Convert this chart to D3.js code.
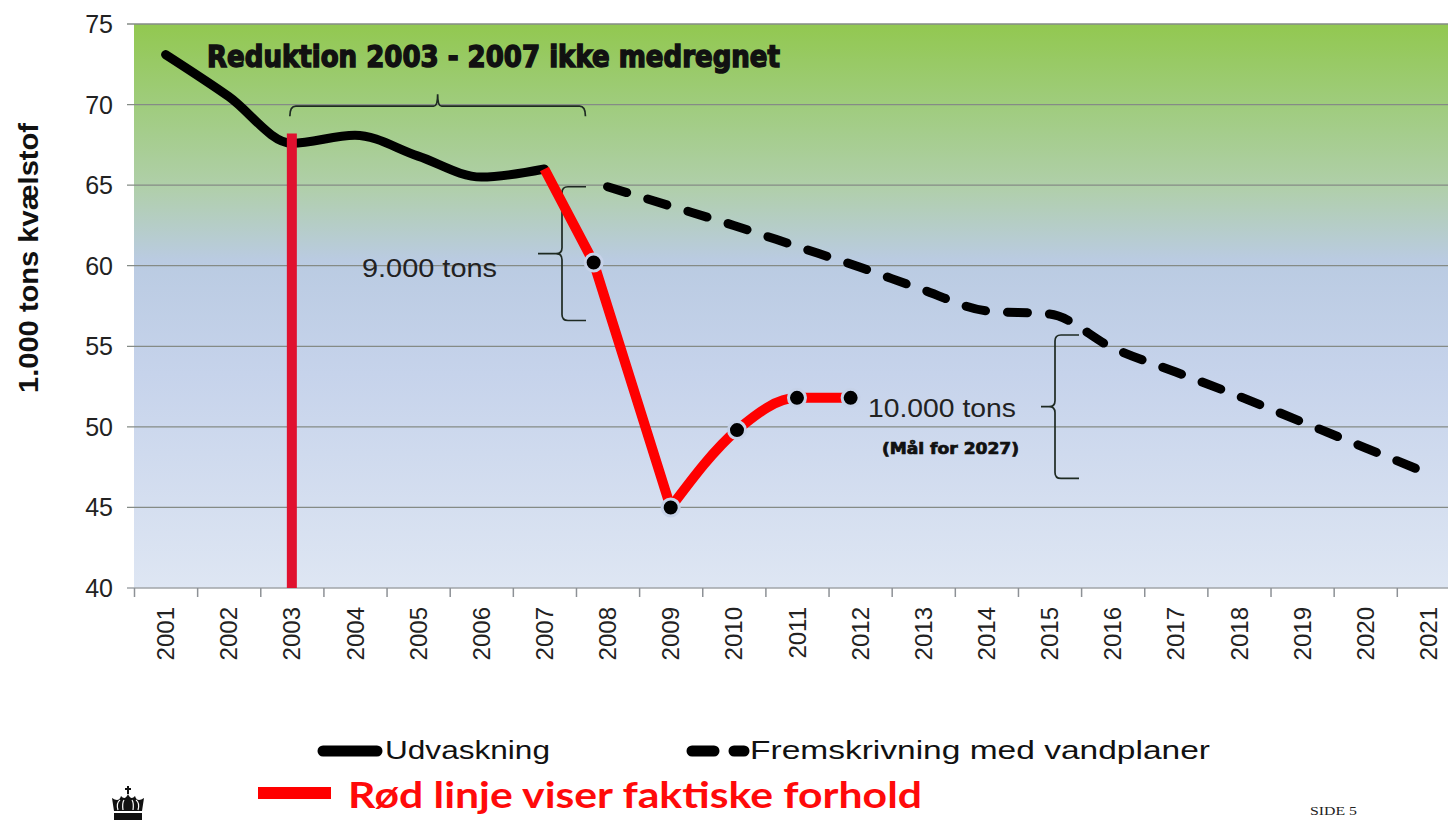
<!DOCTYPE html>
<html>
<head>
<meta charset="utf-8">
<script src="https://cdn.jsdelivr.net/npm/d3@7"></script>
<style>
    body { margin: 0; background: #fff; }
    svg { display: block; }
    .tick-label { font-family: "Liberation Sans", Arial, sans-serif; fill: #222; }
    .note { font-family: "Liberation Sans", Arial, sans-serif; fill: #222; }
    .stamp { font-family: "DejaVu Sans Condensed", "DejaVu Sans", sans-serif; font-weight: bold; fill: #111; stroke: #111; }
</style>
</head>
<body>
<svg id="chart" width="1448" height="820"></svg>
<script>
// category labels on the x axis
var yearLabels = ['2001', '2002', '2003', '2004', '2005', '2006', '2007', '2008', '2009', '2010', '2011',
    '2012', '2013', '2014', '2015', '2016', '2017', '2018', '2019', '2020', '2021'];
var yTicks = [40, 45, 50, 55, 60, 65, 70, 75];

// Udvaskning (measured leaching)
var udvYears = [2001, 2002, 2003, 2004, 2005, 2006, 2007];
var udvValues = [73.1, 70.5, 67.6, 68.1, 66.8, 65.5, 66.0];

// Fremskrivning med vandplaner (projection)
var projYears = [2008, 2009, 2010, 2011, 2012, 2013, 2014, 2015, 2016, 2017, 2018, 2019, 2020, 2021];
var projValues = [64.9, 63.7, 62.5, 61.2, 59.9, 58.5, 57.2, 57.0, 54.9, 53.4, 51.9, 50.3, 48.7, 47.1];

// red line: actual conditions
var actualYears = [2007, 2007.78, 2009, 2010.05, 2011, 2011.85];
var actualValues = [66.0, 60.2, 45.0, 49.8, 51.8, 51.8];

// red marker at 2003
var markYear = 2003;
var markTop = 68.2;

(function (d3) {
    'use strict';

    var svg = d3.select('#chart'),
        left = 134, top = 24, bottom = 588,
        band = 63.14,
        right = left + band * yearLabels.length;

    var x = d3.scaleLinear().domain([2000.5, 2000.5 + yearLabels.length]).range([left, right]),
        y = d3.scaleLinear().domain([40, 75]).range([bottom, top]);

    // background gradient
    var grad = svg.append('defs').append('linearGradient')
        .attr('id', 'bg').attr('x1', 0).attr('y1', 0).attr('x2', 0).attr('y2', 1);
    [[0, '#92c850'], [0.14, '#9fcc7c'], [0.29, '#b0cfaa'], [0.42, '#bacbe2'],
        [0.62, '#c6d3eb'], [1, '#dee6f3']].forEach(function (s) {
        grad.append('stop').attr('offset', s[0]).attr('stop-color', s[1]);
    });

    svg.append('rect')
        .attr('x', left).attr('y', top)
        .attr('width', right - left).attr('height', bottom - top)
        .attr('fill', 'url(#bg)');

    // grid lines + y labels
    svg.append('g').selectAll('line')
        .data(yTicks)
        .enter().append('line')
        .attr('x1', left - 7).attr('x2', 1448)
        .attr('y1', function (d) { return y(d); })
        .attr('y2', function (d) { return y(d); })
        .attr('stroke', function (d) { return d === 40 ? '#a0a4a8' : '#858b86'; })
        .attr('stroke-width', 1.3);

    svg.append('g').selectAll('text')
        .data(yTicks)
        .enter().append('text')
        .attr('class', 'tick-label')
        .attr('x', 113)
        .attr('y', function (d) { return y(d); })
        .attr('dy', '0.36em')
        .attr('text-anchor', 'end')
        .style('font-size', '25px')
        .text(function (d) { return d; });

    // x axis ticks and labels
    var xAxis = d3.axisBottom(x)
        .tickValues(d3.range(yearLabels.length + 1).map(function (i) { return 2000.5 + i; }))
        .tickSize(9)
        .tickFormat('');
    var gx = svg.append('g')
        .attr('transform', 'translate(0,' + bottom + ')')
        .call(xAxis);
    gx.select('.domain').remove();
    gx.selectAll('line').attr('stroke', '#8d9196').attr('stroke-width', 1.5);

    svg.append('g').selectAll('text')
        .data(yearLabels)
        .enter().append('text')
        .attr('class', 'tick-label')
        .attr('transform', function (d) { return 'translate(' + x(+d) + ',607) rotate(-90)'; })
        .attr('dy', '0.36em')
        .attr('text-anchor', 'end')
        .style('font-size', '24px')
        .text(function (d) { return d; });

    // y axis title
    svg.append('text')
        .attr('transform', 'translate(38,258) rotate(-90)')
        .attr('text-anchor', 'middle')
        .attr('textLength', 270)
        .attr('lengthAdjust', 'spacingAndGlyphs')
        .style('font-family', '"Liberation Sans", Arial, sans-serif')
        .style('font-weight', 'bold')
        .style('font-size', '28px')
        .attr('fill', '#111')
        .text('1.000 tons kvælstof');

    // braces
    var brace = svg.append('g')
        .attr('fill', 'none')
        .attr('stroke', '#1e2a22')
        .attr('stroke-width', 1.7);

    var bl = x(2003) - 2, br = x(2007.65), bm = (bl + br) / 2, by = y(69.9);
    brace.append('path')
        .attr('d', 'M' + bl + ',' + (by + 10) + ' Q' + bl + ',' + by + ' ' + (bl + 6) + ',' + by +
            ' L' + (bm - 4) + ',' + by + ' Q' + bm + ',' + by + ' ' + bm + ',' + (by - 12) +
            ' Q' + bm + ',' + by + ' ' + (bm + 4) + ',' + by +
            ' L' + (br - 6) + ',' + by + ' Q' + br + ',' + by + ' ' + br + ',' + (by + 10));

    function vBrace(xv, yTop, yBot, tip) {
        var ym = (yTop + yBot) / 2;
        return 'M' + (xv + 24) + ',' + yTop + ' L' + (xv + 6) + ',' + yTop +
            ' Q' + xv + ',' + yTop + ' ' + xv + ',' + (yTop + 6) +
            ' L' + xv + ',' + (ym - 6) + ' Q' + xv + ',' + ym + ' ' + (xv - 6) + ',' + ym +
            ' L' + (xv - tip) + ',' + ym +
            ' M' + (xv - 6) + ',' + ym + ' Q' + xv + ',' + ym + ' ' + xv + ',' + (ym + 6) +
            ' L' + xv + ',' + (yBot - 6) + ' Q' + xv + ',' + yBot + ' ' + (xv + 6) + ',' + yBot +
            ' L' + (xv + 24) + ',' + yBot;
    }
    brace.append('path').attr('d', vBrace(562, y(64.9), y(56.6), 24));
    brace.append('path').attr('d', vBrace(1055, y(55.7), y(46.8), 14));

    // Udvaskning line
    var smooth = d3.line()
        .x(function (d) { return x(d[0]); })
        .y(function (d) { return y(d[1]); })
        .curve(d3.curveMonotoneX);
    var straight = d3.line()
        .x(function (d) { return x(d[0]); })
        .y(function (d) { return y(d[1]); });

    svg.append('path')
        .attr('d', smooth(d3.zip(udvYears, udvValues)))
        .attr('fill', 'none')
        .attr('stroke', '#000')
        .attr('stroke-width', 9)
        .attr('stroke-linecap', 'round')
        .attr('stroke-linejoin', 'round');

    // projection
    svg.append('path')
        .attr('d', smooth(d3.zip(projYears, projValues)))
        .attr('fill', 'none')
        .attr('stroke', '#000')
        .attr('stroke-width', 9)
        .attr('stroke-dasharray', '20 22')
        .attr('stroke-linecap', 'round');

    // actual (red)
    var actual = d3.zip(actualYears, actualValues);
    svg.append('path')
        .attr('d', straight(actual.slice(0, 3)))
        .attr('fill', 'none')
        .attr('stroke', '#ff0000')
        .attr('stroke-width', 10);
    svg.append('path')
        .attr('d', smooth(actual.slice(2)))
        .attr('fill', 'none')
        .attr('stroke', '#ff0000')
        .attr('stroke-width', 10);

    // red marker 2003
    svg.append('line')
        .attr('x1', x(markYear)).attr('x2', x(markYear))
        .attr('y1', y(40)).attr('y2', y(markTop))
        .attr('stroke', '#e0112f')
        .attr('stroke-width', 10);

    // dots
    svg.append('g').selectAll('circle')
        .data(actual.slice(1))
        .enter().append('circle')
        .attr('cx', function (d) { return x(d[0]); })
        .attr('cy', function (d) { return y(d[1]); })
        .attr('r', 8.5)
        .attr('fill', '#000')
        .attr('stroke', '#c6d2e8')
        .attr('stroke-width', 3);

    // annotations
    svg.append('text')
        .attr('class', 'stamp')
        .attr('x', 207).attr('y', 67)
        .attr('textLength', 573).attr('lengthAdjust', 'spacingAndGlyphs')
        .style('font-size', '30px')
        .style('stroke-width', '1.4px')
        .text('Reduktion 2003 - 2007 ikke medregnet');

    svg.append('text')
        .attr('class', 'note')
        .attr('x', 362).attr('y', 277)
        .attr('textLength', 135).attr('lengthAdjust', 'spacingAndGlyphs')
        .style('font-size', '25px')
        .text('9.000 tons');

    svg.append('text')
        .attr('class', 'note')
        .attr('x', 868).attr('y', 417)
        .attr('textLength', 148).attr('lengthAdjust', 'spacingAndGlyphs')
        .style('font-size', '26px')
        .text('10.000 tons');

    svg.append('text')
        .attr('class', 'stamp')
        .attr('x', 882).attr('y', 454)
        .attr('textLength', 137).attr('lengthAdjust', 'spacingAndGlyphs')
        .style('font-size', '16px')
        .style('stroke-width', '0.7px')
        .text('(Mål for 2027)');

    // legend
    var legend = svg.append('g');
    legend.append('line')
        .attr('x1', 323).attr('x2', 377).attr('y1', 751).attr('y2', 751)
        .attr('stroke', '#000').attr('stroke-width', 11).attr('stroke-linecap', 'round');
    legend.append('text')
        .attr('class', 'note')
        .attr('x', 385).attr('y', 759)
        .attr('textLength', 165).attr('lengthAdjust', 'spacingAndGlyphs')
        .style('font-size', '25px').style('fill', '#111')
        .text('Udvaskning');

    legend.append('line')
        .attr('x1', 692).attr('x2', 744).attr('y1', 751).attr('y2', 751)
        .attr('stroke', '#000').attr('stroke-width', 11)
        .attr('stroke-dasharray', '22 20').attr('stroke-linecap', 'round');
    legend.append('text')
        .attr('class', 'note')
        .attr('x', 750).attr('y', 759)
        .attr('textLength', 460).attr('lengthAdjust', 'spacingAndGlyphs')
        .style('font-size', '25px').style('fill', '#111')
        .text('Fremskrivning med vandplaner');

    legend.append('line')
        .attr('x1', 258).attr('x2', 331).attr('y1', 793).attr('y2', 793)
        .attr('stroke', '#ff0000').attr('stroke-width', 12);
    legend.append('text')
        .attr('x', 348).attr('y', 808)
        .attr('textLength', 574).attr('lengthAdjust', 'spacingAndGlyphs')
        .style('font-family', 'Lato, "Open Sans", sans-serif')
        .style('font-weight', 'bold')
        .style('font-size', '37px')
        .attr('fill', '#ff0a0a')
        .text('Rød linje viser faktiske forhold');

    // crown mark
    var crown = svg.append('g').attr('fill', '#111');
    crown.append('path')
        .attr('d', 'M114,811 L112,798 Q119,803 121,796 Q125,801 128,794 Q131,801 135,796 Q137,803 144,798 L142,811 Z');
    crown.append('rect').attr('x', 114).attr('y', 813).attr('width', 28).attr('height', 7);
    crown.append('rect').attr('x', 127).attr('y', 786).attr('width', 2).attr('height', 8);
    crown.append('rect').attr('x', 125).attr('y', 788).attr('width', 6).attr('height', 2);
    crown.append('path')
        .attr('d', 'M118,810 Q116,803 120,800 M123,810 Q122,803 124,800 M133,810 Q134,803 132,800 M138,810 Q140,803 136,800')
        .attr('fill', 'none').attr('stroke', '#fff').attr('stroke-width', 1.2);

    svg.append('text')
        .attr('x', 1310).attr('y', 815)
        .attr('textLength', 47).attr('lengthAdjust', 'spacingAndGlyphs')
        .style('font-family', '"Liberation Serif", serif')
        .style('font-size', '12px')
        .attr('fill', '#222')
        .text('SIDE 5');
})(window.d3);
</script>
</body>
</html>
